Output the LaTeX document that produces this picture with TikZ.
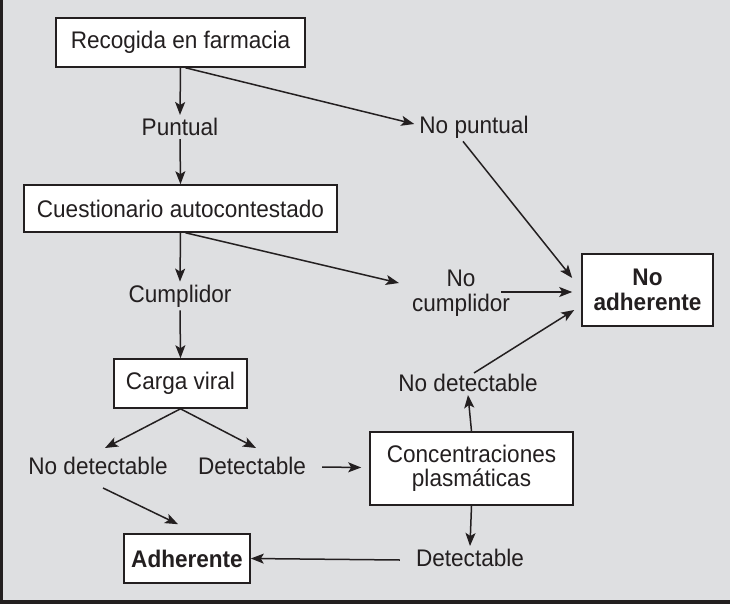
\documentclass[tikz,border=0pt]{standalone}
\usepackage{fontspec}
\setmainfont{Liberation Sans}[FakeStretch=0.94]
\usetikzlibrary{arrows.meta,calc}
\definecolor{bggray}{HTML}{DEDFE1}
\definecolor{ink}{HTML}{231F20}
\begin{document}
\begin{tikzpicture}[x=1pt,y=-1pt,
  font=\fontsize{24}{24.5}\selectfont,
  box/.style={draw=ink,line width=1.6pt,fill=white,text=ink,inner sep=0pt,align=center},
  lbl/.style={text=ink,inner sep=3pt,align=center},
  arr/.style={draw=ink,line width=1.5pt,-{Stealth[length=13pt,width=10pt,inset=3pt]}}]
\fill[bggray] (0,0) rectangle (730,604);
\fill[ink] (0,0) rectangle (3,604);
\fill[ink] (0,600) rectangle (730,604);
\useasboundingbox (0,0) rectangle (730,604);

\node[box,minimum width=249pt,minimum height=49pt] (r1) at (180.5,42.5) {Recogida en farmacia};
\node[lbl] (p) at (180,127) {Puntual};
\node[lbl] (np) at (474,127) {No puntual};
\node[box,minimum width=313pt,minimum height=47pt] (r2) at (180.5,208.5) {Cuestionario autocontestado};
\node[lbl] (c) at (180,296) {Cumplidor};
\node[lbl] (nc) at (461,293) {No\\cumplidor};
\node[box,minimum width=131pt,minimum height=72pt,font=\fontsize{24}{24.5}\selectfont\bfseries] (na) at (647.5,290) {No\\adherente};
\node[box,minimum width=133pt,minimum height=49pt] (cv) at (180.5,383.5) {Carga viral};
\node[lbl] (nd1) at (98,466) {No detectable};
\node[lbl] (d1) at (252,466) {Detectable};
\node[box,minimum width=203pt,minimum height=73pt] (cp) at (471.5,468.5) {Concentraciones\\plasmáticas};
\node[lbl] (nd2) at (468,383) {No detectable};
\node[lbl] (d2) at (470,558) {Detectable};
\node[box,minimum width=126pt,minimum height=49pt,font=\fontsize{24}{24.5}\selectfont\bfseries] (ad) at (187,558.5) {Adherente};

\draw[arr] (r1.south) -- (p.north);
\draw[arr] (p.south) -- (r2.north);
\draw[arr] ([xshift=5pt]r1.south) -- ($(np.west)+(-2,-3)$);
\draw[arr] ($(np.south)+(-11,0)$) -- ($(na.west)+(-9,-12)$);
\draw[arr] (r2.south) -- (c.north);
\draw[arr] ([xshift=5pt]r2.south) -- ($(nc.west)+(-10,-10)$);
\draw[arr] ($(nc.center)+(40,-1)$) -- ($(na.west)+(-9,2)$);
\draw[arr] (c.south) -- (cv.north);
\draw[arr] (cv.south) -- ($(nd1.center)+(7,-18)$);
\draw[arr] (cv.south) -- ($(d1.center)+(4,-18)$);
\draw[arr] ($(d1.east)+(13,1)$) -- ($(cp.west)+(-8,-1)$);
\draw[arr] (cp.north) -- (nd2.south);
\draw[arr] ($(nd2.north)+(6,2)$) -- ($(na.west)+(-7,20)$);
\draw[arr] (cp.south) -- (d2.north);
\draw[arr] ($(d2.west)+(-13,2)$) -- (ad.east);
\draw[arr] ($(nd1.center)+(5,22)$) -- ($(ad.north)+(-9,-9)$);
\end{tikzpicture}
\end{document}
